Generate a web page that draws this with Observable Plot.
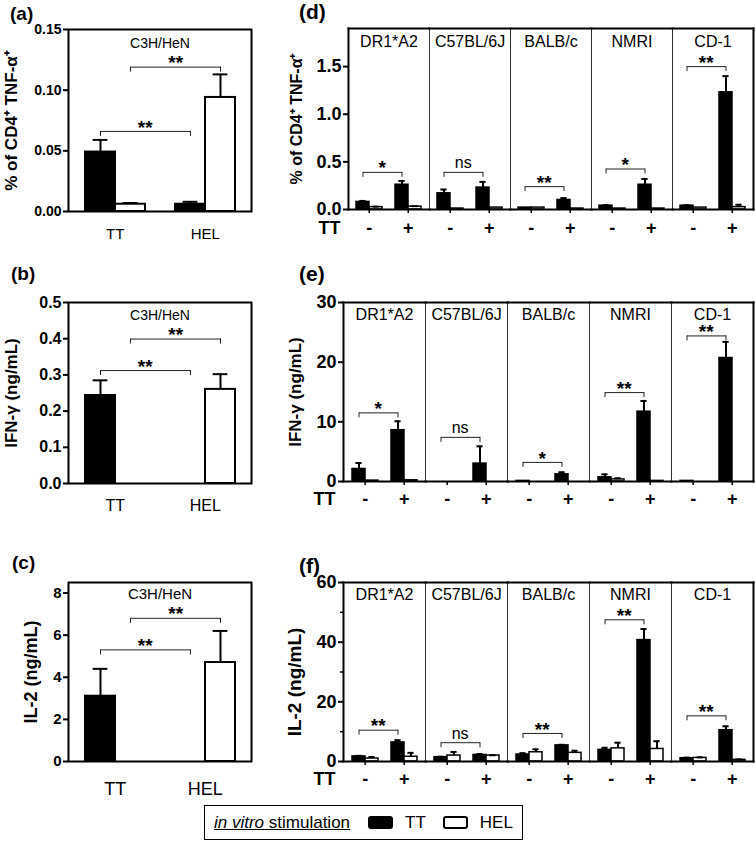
<!DOCTYPE html>
<html><head><meta charset="utf-8">
<script src="https://cdn.jsdelivr.net/npm/d3@7"></script>
<script src="https://cdn.jsdelivr.net/npm/@observablehq/plot@0.6"></script>
<style>
body{margin:0;background:#fff;}
#root{position:relative;width:755px;height:842px;font-family:'Liberation Sans',Arial,Helvetica,sans-serif;color:#000;overflow:hidden;}
.panel{position:absolute;}
.letter{position:absolute;font-weight:bold;line-height:1;}
#legend{position:absolute;box-sizing:border-box;border:1.5px solid #000;display:flex;align-items:center;font-size:17px;line-height:1;}
.sw{display:inline-block;width:21px;height:9px;border:2px solid #000;border-radius:3px;}
</style></head>
<body><div id="root"></div>
<script>
// ---------- data ----------
const leftGroups = ["TT", "HEL"];          // x-axis groups of panels (a)-(c)
const stimuli = ["TT", "HEL"];             // in vitro stimulation (black / white bars)
const stimColors = ["#000", "#fff"];
const leftStrain = "C3H/HeN";
// order: group TT [stim TT, stim HEL], group HEL [stim TT, stim HEL]
const aMeans  = [0.049, 0.006, 0.006, 0.094];
const aErrors = [0.010, 0.001, 0.002, 0.019];
const bMeans  = [0.243, null, null, 0.260];
const bErrors = [0.042, null, null, 0.042];
const cMeans  = [3.1, null, null, 4.7];
const cErrors = [1.3, null, null, 1.5];
const aBrackets = [0.066, 0.119];
const bBrackets = [0.312, 0.399];
const cBrackets = [5.3, 6.8];
const leftBracketLabels = ["**", "**"];

const strains = ["DR1*A2", "C57BL/6J", "BALB/c", "NMRI", "CD-1"];
const ttLevels = ["-", "+"];
// per strain: [TT- / stim TT, TT- / stim HEL, TT+ / stim TT, TT+ / stim HEL]
const dMeans = [
  [0.08, 0.025, 0.26, 0.03],
  [0.17, 0.01, 0.23, 0.02],
  [0.02, 0.02, 0.10, 0.01],
  [0.04, 0.01, 0.26, 0.01],
  [0.04, 0.02, 1.23, 0.025]
];
const dErrors = [
  [0.01, 0.005, 0.04, 0.005],
  [0.04, 0, 0.06, 0],
  [0, 0, 0.02, 0],
  [0.005, 0, 0.06, 0],
  [0.005, 0, 0.17, 0.025]
];
const dBrackets = [0.39, 0.39, 0.24, 0.425, 1.5];
const dLabels = ["*", "ns", "**", "*", "**"];

const eMeans = [
  [2.1, 0.15, 8.6, 0.2],
  [0, 0, 3.0, 0],
  [0.1, 0, 1.2, 0],
  [0.7, 0.35, 11.7, 0.1],
  [0.1, 0, 20.7, 0]
];
const eErrors = [
  [1.0, 0, 1.5, 0],
  [0, 0, 2.9, 0],
  [0, 0, 0.35, 0],
  [0.5, 0.2, 1.8, 0],
  [0, 0, 2.7, 0]
];
const eBrackets = [11.5, 7.4, 3.2, 14.9, 24.4];
const eLabels = ["*", "ns", "*", "**", "**"];

const fMeans = [
  [1.7, 1.0, 6.4, 1.6],
  [1.45, 2.0, 2.2, 2.0],
  [2.35, 3.1, 5.4, 2.9],
  [3.9, 4.4, 40.7, 4.2],
  [1.1, 1.2, 10.5, 0.55]
];
const fErrors = [
  [0.2, 0.5, 0.75, 1.3],
  [0.15, 1.2, 0.3, 0.1],
  [0.45, 1.0, 0.2, 0.7],
  [0.7, 1.9, 3.7, 2.6],
  [0.2, 0.2, 1.3, 0.15]
];
const fBrackets = [10.5, 6.3, 9.4, 47.5, 15.3];
const fLabels = ["**", "ns", "**", "**", "**"];

const aTicks = [0, 0.05, 0.10, 0.15];
const bTicks = [0, 0.1, 0.2, 0.3, 0.4, 0.5];
const cTicks = [0, 2, 4, 6, 8];
const dTicks = [0, 0.5, 1.0, 1.5];
const eTicks = [0, 10, 20, 30];
const fTicks = [0, 20, 40, 60];
const fMinorTicks = [10, 30, 50];

const titleA = "% of CD4⁺ TNF-α⁺";
const titleIFN = "IFN-γ (ng/mL)";
const titleIL2 = "IL-2 (ng/mL)";

// ---------- helpers ----------
const FONT = "'Liberation Sans', Arial, Helvetica, sans-serif";
const key = (g, s) => `${g}|${s}`;
const GAP = "gap";
const leftSlots = [key(leftGroups[0], stimuli[0]), key(leftGroups[0], stimuli[1]), GAP, key(leftGroups[1], stimuli[0]), key(leftGroups[1], stimuli[1])];
const rightSlots = [key(ttLevels[0], stimuli[0]), key(ttLevels[0], stimuli[1]), GAP, key(ttLevels[1], stimuli[0]), key(ttLevels[1], stimuli[1])];
const root = document.getElementById("root");
const STAR = 19;

function place(el, left, top) {
  const d = document.createElement("div");
  d.className = "panel";
  d.style.left = left + "px";
  d.style.top = top + "px";
  d.appendChild(el);
  root.appendChild(d);
}
function letter(txt, left, top, size) {
  const d = document.createElement("div");
  d.className = "letter";
  d.textContent = txt;
  d.style.left = left + "px";
  d.style.top = top + "px";
  d.style.fontSize = size + "px";
  root.appendChild(d);
}

function leftPanel(o) {
  const W = 260, ML = 68, MR = 9, MB = 35;
  const step = (W - ML - MR) / 6;
  const rows = [];
  leftGroups.forEach((g, gi) => stimuli.forEach((s, si) => {
    rows.push({slot: key(g, s), stim: s, mean: o.means[gi * 2 + si], err: o.errors[gi * 2 + si]});
  }));
  const bars = rows.filter(d => d.mean != null);
  const errs = rows.filter(d => d.mean != null && d.err > 0);
  const br = o.brackets.map((y, i) => ({from: key(leftGroups[0], stimuli[i]), to: key(leftGroups[1], stimuli[i]), y, label: leftBracketLabels[i]}));
  const ends = br.flatMap(b => [{x: b.from, y: b.y}, {x: b.to, y: b.y}]);
  return Plot.plot({
    width: W, height: o.height, marginLeft: ML, marginRight: MR, marginTop: o.marginTop, marginBottom: MB,
    style: {fontFamily: FONT, color: "#000", background: "transparent", overflow: "visible"},
    x: {type: "band", domain: leftSlots, paddingInner: 0, paddingOuter: 0.5, axis: null, label: null},
    y: {domain: o.yDomain, axis: null, label: null},
    color: {domain: stimuli, range: stimColors},
    marks: [
      Plot.barY(bars, {x: "slot", y: "mean", fill: "stim", stroke: "#000", strokeWidth: 2}),
      Plot.ruleX(errs, {x: "slot", y1: "mean", y2: d => d.mean + d.err, stroke: "#000", strokeWidth: 2}),
      Plot.tickY(errs, {x: "slot", y: d => d.mean + d.err, stroke: "#000", strokeWidth: 2, insetLeft: step / 4, insetRight: step / 4}),
      Plot.link(br, {x1: "from", x2: "to", y1: "y", y2: "y", stroke: "#222", strokeWidth: 1}),
      Plot.ruleX(ends, {x: "x", y1: "y", y2: "y", insetBottom: -5, stroke: "#222", strokeWidth: 1}),
      Plot.text([br[0]], {x: () => GAP, y: "y", text: "label", dx: -step / 2, dy: -4, fontSize: STAR, fontWeight: "bold"}),
      Plot.text([br[1]], {x: () => GAP, y: "y", text: "label", dx: step / 2, dy: -4, fontSize: STAR, fontWeight: "bold"}),
      Plot.text([leftStrain], {frameAnchor: "top", textAnchor: "middle", lineAnchor: "middle", dy: o.strainDy, fontSize: o.strainFont}),
      Plot.axisY({ticks: o.yTicks, tickFormat: d3.format(o.yFormat), tickSize: 5, tickPadding: 2, strokeWidth: 2, fontSize: o.tickFont, fontWeight: "bold", label: null}),
      Plot.axisX({ticks: [leftSlots[1], leftSlots[4]], tickFormat: d => d.split("|")[0], dx: -step / 2, tickSize: 0, tickPadding: o.xPad, fontSize: o.xFont, label: null}),
      Plot.text([o.title], {frameAnchor: "left", textAnchor: "middle", lineAnchor: "middle", dx: o.titleDx, rotate: -90, fontSize: o.titleFont, fontWeight: "bold"}),
      Plot.frame({stroke: "#000", strokeWidth: 2})
    ]
  });
}

function rightPanel(o) {
  const W = 495, MR = 2, MB = 32;
  const facetW = (W - o.marginLeft - MR) / strains.length;
  const step = facetW / 6;
  const rows = [];
  strains.forEach((st, si) => ttLevels.forEach((lv, li) => stimuli.forEach((s, ti) => {
    rows.push({strain: st, slot: key(lv, s), stim: s, mean: o.means[si][li * 2 + ti], err: o.errors[si][li * 2 + ti]});
  })));
  const errs = rows.filter(d => d.err > 0);
  const br = strains.map((st, i) => ({strain: st, from: key(ttLevels[0], stimuli[0]), to: key(ttLevels[1], stimuli[0]), y: o.brackets[i], label: o.labels[i]}));
  const ends = br.flatMap(b => [{strain: b.strain, x: b.from, y: b.y}, {strain: b.strain, x: b.to, y: b.y}]);
  const marks = [
    Plot.barY(rows, {fx: "strain", x: "slot", y: "mean", fill: "stim", stroke: "#000", strokeWidth: 1.5}),
    Plot.ruleX(errs, {fx: "strain", x: "slot", y1: "mean", y2: d => d.mean + d.err, stroke: "#000", strokeWidth: 2}),
    Plot.tickY(errs, {fx: "strain", x: "slot", y: d => d.mean + d.err, stroke: "#000", strokeWidth: 2, insetLeft: step / 4, insetRight: step / 4}),
    Plot.link(br, {fx: "strain", x1: "from", x2: "to", y1: "y", y2: "y", stroke: "#222", strokeWidth: 1}),
    Plot.ruleX(ends, {fx: "strain", x: "x", y1: "y", y2: "y", insetBottom: -5, stroke: "#222", strokeWidth: 1}),
    Plot.text(br.filter(d => d.label !== "ns"), {fx: "strain", x: () => GAP, y: "y", text: "label", dx: -step / 2, dy: -4, fontSize: STAR, fontWeight: "bold"}),
    Plot.text(br.filter(d => d.label === "ns"), {fx: "strain", x: () => GAP, y: "y", text: "label", dx: -step / 2, dy: -9, fontSize: 16}),
    Plot.text(strains, {fx: d => d, text: d => d, frameAnchor: "top", textAnchor: "middle", lineAnchor: "middle", dy: o.strainDy, fontSize: 16}),
    Plot.axisY({ticks: o.yTicks, tickFormat: d3.format(o.yFormat), tickSize: 5, tickPadding: 2, strokeWidth: 2, fontSize: 18, fontWeight: "bold", label: null}),
    Plot.axisX({ticks: [rightSlots[1], rightSlots[4]], tickFormat: d => d.split("|")[0], dx: -step / 2, tickSize: 4, strokeWidth: 1.5, tickPadding: o.xPad, fontSize: 18, fontWeight: "bold", label: null}),
    Plot.text([{strain: strains[0]}], {fx: "strain", text: () => "TT", frameAnchor: "bottom-left", textAnchor: "middle", lineAnchor: "middle", dx: -19, dy: o.ttDy, fontSize: 18, fontWeight: "bold"}),
    Plot.text([{strain: strains[0], t: o.title}], {fx: "strain", text: "t", frameAnchor: "left", textAnchor: "middle", lineAnchor: "middle", dx: o.titleDx, dy: o.titleDy || 0, rotate: -90, fontSize: o.titleFont, fontWeight: "bold"}),
    Plot.frame({stroke: "#333", strokeWidth: 1}),
    Plot.frame({anchor: "top", stroke: "#000", strokeWidth: 2}),
    Plot.frame({anchor: "bottom", stroke: "#000", strokeWidth: 2}),
    Plot.frame({anchor: "left", facetAnchor: "left", stroke: "#000", strokeWidth: 2}),
    Plot.frame({anchor: "right", facetAnchor: "right", stroke: "#000", strokeWidth: 2})
  ];
  if (o.minorTicks) marks.push(Plot.axisY({ticks: o.minorTicks, tickFormat: () => "", tickSize: 3, strokeWidth: 1.5, label: null}));
  return Plot.plot({
    width: W, height: o.height, marginLeft: o.marginLeft, marginRight: MR, marginTop: o.marginTop, marginBottom: MB,
    style: {fontFamily: FONT, color: "#000", background: "transparent", overflow: "visible"},
    fx: {domain: strains, paddingInner: 0, paddingOuter: 0, axis: null, label: null},
    x: {type: "band", domain: rightSlots, paddingInner: 0, paddingOuter: 0.5, axis: null, label: null},
    y: {domain: o.yDomain, axis: null, label: null},
    color: {domain: stimuli, range: stimColors},
    marks
  });
}

// ---------- left column ----------
place(leftPanel({means: aMeans, errors: aErrors, brackets: aBrackets, yDomain: [0, 0.15], yTicks: aTicks, yFormat: ".2f",
  title: titleA, titleDx: -57, titleFont: 17, tickFont: 14, xFont: 15, xPad: 17, strainDy: 14, strainFont: 14, height: 246, marginTop: 29}), 0, 0);
place(leftPanel({means: bMeans, errors: bErrors, brackets: bBrackets, yDomain: [0, 0.5], yTicks: bTicks, yFormat: ".1f",
  title: titleIFN, titleDx: -57, titleFont: 17, tickFont: 16, xFont: 16, xPad: 16, strainDy: 13, strainFont: 14, height: 248, marginTop: 32}), 0, 270);
place(leftPanel({means: cMeans, errors: cErrors, brackets: cBrackets, yDomain: [0, 8.5], yTicks: cTicks, yFormat: "d",
  title: titleIL2, titleDx: -37, titleFont: 18, tickFont: 15, xFont: 18, xPad: 21, strainDy: 12, strainFont: 15, height: 246, marginTop: 32}), 0, 550);

// ---------- right column ----------
place(rightPanel({means: dMeans, errors: dErrors, brackets: dBrackets, labels: dLabels, yDomain: [0, 1.9], yTicks: dTicks, yFormat: ".1f",
  title: titleA, titleDx: -52, titleFont: 16, marginLeft: 88, marginTop: 28, height: 241, strainDy: 13.5, xPad: 8, ttDy: 19}), 260, 0);
place(rightPanel({means: eMeans, errors: eErrors, brackets: eBrackets, labels: eLabels, yDomain: [0, 30], yTicks: eTicks, yFormat: "d",
  title: titleIFN, titleDx: -48, titleFont: 17, marginLeft: 83, marginTop: 32, height: 243, strainDy: 12, xPad: 7, ttDy: 18}), 260, 270);
place(rightPanel({means: fMeans, errors: fErrors, brackets: fBrackets, labels: fLabels, yDomain: [0, 60], yTicks: fTicks, yFormat: "d", minorTicks: fMinorTicks,
  title: titleIL2, titleDx: -49, titleDy: 10, titleFont: 19, marginLeft: 83, marginTop: 32, height: 243, strainDy: 12, xPad: 7, ttDy: 18}), 260, 550);

// ---------- panel letters ----------
letter("(a)", 10, 4, 19);
letter("(b)", 11, 264, 19);
letter("(c)", 12, 553, 19);
letter("(d)", 299, 1, 21);
letter("(e)", 299, 263, 21);
letter("(f)", 299, 555, 21);

// ---------- legend ----------
const lg = document.createElement("div");
lg.id = "legend";
lg.style.left = "204px"; lg.style.top = "805px"; lg.style.width = "319px"; lg.style.height = "35px";
const head = document.createElement("span");
head.style.marginLeft = "9px";
head.style.textDecoration = "underline";
head.innerHTML = "<i>in vitro</i> stimulation";
lg.appendChild(head);
stimuli.forEach((s, i) => {
  const sw = document.createElement("span");
  sw.className = "sw";
  sw.style.background = stimColors[i];
  sw.style.marginLeft = i === 0 ? "18px" : "17px";
  lg.appendChild(sw);
  const t = document.createElement("span");
  t.textContent = s;
  t.style.marginLeft = "12px";
  lg.appendChild(t);
});
root.appendChild(lg);
</script>
</body></html>
